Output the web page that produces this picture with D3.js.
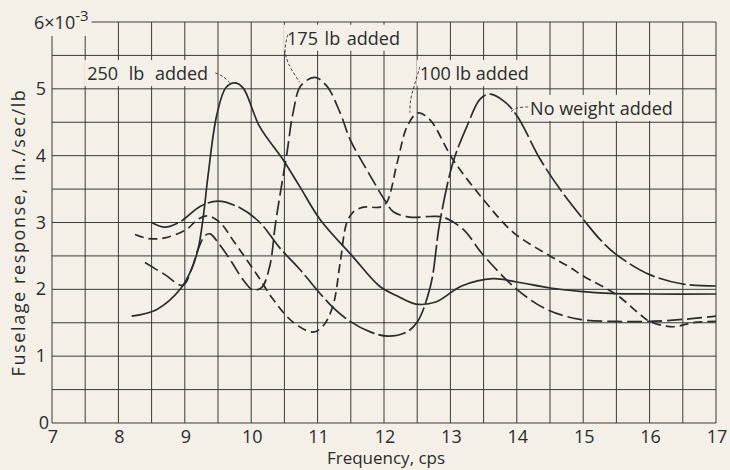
<!DOCTYPE html>
<html>
<head>
<meta charset="utf-8">
<script src="https://cdn.jsdelivr.net/npm/d3@7"></script>
<style>
  body { margin: 0; background: #f4f0e8; }
  text { font-family: "Open Sans", sans-serif; fill: #2b2b2b; }
</style>
</head>
<body>
<svg id="chart" width="730" height="470"></svg>
<script>
// tick labels
const xTicks = [7, 8, 9, 10, 11, 12, 13, 14, 15, 16, 17];
const yTicks = [0, 1, 2, 3, 4, 5];

// [frequency cps, response x1e-3 in./sec/lb]
const added250 = [[8.2,1.6],[8.58,1.7],[8.93,2.0],[9.1,2.3],[9.2,2.6],[9.28,3.1],[9.35,3.7],[9.48,4.6],
  [9.62,5.02],[9.76,5.09],[9.88,5.01],[10.13,4.43],[10.48,3.94],[10.73,3.54],[11.04,3.04],[11.53,2.49],
  [11.93,2.05],[12.2,1.9],[12.48,1.78],[12.78,1.81],[13.17,2.05],[13.64,2.16],[14.0,2.11],[14.5,2.02],
  [14.95,1.97],[15.4,1.94],[16.0,1.93],[17.0,1.93]];
const added175 = [[8.4,2.4],[8.7,2.22],[8.97,2.06],[9.1,2.3],[9.2,2.6],[9.3,2.8],[9.38,2.83],[9.5,2.7],
  [9.68,2.45],[9.88,2.14],[10.03,1.99],[10.16,2.03],[10.28,2.35],[10.36,2.94],[10.43,3.39],[10.54,4.05],
  [10.63,4.64],[10.75,5.05],[10.96,5.17],[11.14,5.04],[11.34,4.64],[11.49,4.24],[11.74,3.79],[12.04,3.29],
  [12.14,3.16],[12.39,3.08],[12.69,3.09],[12.89,3.08],[13.19,2.9],[13.49,2.52],[14.0,2.0],[14.45,1.7],
  [14.95,1.55],[15.5,1.52],[16.0,1.52],[16.5,1.55],[17.0,1.6]];
const added100 = [[8.25,2.82],[8.45,2.76],[8.7,2.77],[9.03,2.9],[9.2,3.05],[9.35,3.1],[9.53,3.0],[9.75,2.7],
  [10.1,2.2],[10.33,1.85],[10.63,1.51],[10.93,1.36],[11.08,1.45],[11.23,1.75],[11.34,2.4],[11.44,3.0],
  [11.54,3.16],[11.69,3.23],[11.94,3.23],[12.04,3.3],[12.2,3.9],[12.35,4.44],[12.51,4.64],[12.69,4.54],
  [13.04,3.94],[13.5,3.34],[13.95,2.85],[14.5,2.5],[14.8,2.33],[15.0,2.2],[15.5,1.92],[15.85,1.63],
  [16.0,1.52],[16.35,1.44],[16.65,1.5],[17.0,1.52]];
const noWeight = [[8.5,3.0],[8.7,2.93],[8.93,3.01],[9.23,3.24],[9.5,3.32],[9.83,3.22],[10.13,3.0],
  [10.43,2.62],[10.73,2.3],[11.2,1.76],[11.49,1.52],[11.8,1.36],[12.06,1.3],[12.34,1.36],[12.5,1.51],
  [12.7,2.05],[12.84,3.0],[13.04,3.9],[13.25,4.44],[13.45,4.85],[13.6,4.92],[13.8,4.82],[14.0,4.6],
  [14.35,3.95],[14.65,3.5],[15.0,3.05],[15.25,2.75],[15.5,2.52],[16.0,2.22],[16.5,2.08],[17.0,2.05]];

const series = [
  {data: added250, dash: null},
  {data: added175, dash: "15,5"},
  {data: added100, dash: "9,5"},
  {data: noWeight, dash: "28,4"}
];

// callouts: text start / baseline and leader points, in data units
const callouts = [
  {text: "250 lb added", x: 7.53, y: 5.13, ws: 6, lead: [[9.46,5.24],[9.58,5.18],[9.68,5.09]]},
  {text: "175 lb added", x: 10.54, y: 5.66, ws: 2, lead: [[10.55,5.81],[10.51,5.58],[10.56,5.38],[10.73,5.1]]},
  {text: "100 lb added", x: 12.54, y: 5.13, ws: 0, lead: [[12.54,5.33],[12.46,5.06],[12.4,4.83],[12.39,4.64]]},
  {text: "No weight added", x: 14.2, y: 4.61, ws: 0, lead: [[14.17,4.73],[14.0,4.71],[13.9,4.65]]}
];

const W = 730, H = 470;
const m = {left: 52, right: 14, top: 22, bottom: 47};
const bg = "#f4f0e8", ink = "#2b2b2b";

const svg = d3.select("#chart");
svg.append("rect").attr("width", W).attr("height", H).attr("fill", bg);

const x = d3.scaleLinear().domain([7, 17]).range([m.left, W - m.right]);
const y = d3.scaleLinear().domain([0, 6]).range([H - m.bottom, m.top]);

// grid every 0.5
const grid = svg.append("g").attr("stroke", "#3a3a3a").attr("stroke-width", 1);
d3.range(7, 17.01, 0.5).forEach(v => {
  grid.append("line").attr("x1", x(v)).attr("x2", x(v)).attr("y1", y(0)).attr("y2", y(6));
});
d3.range(0, 6.01, 0.5).forEach(v => {
  grid.append("line").attr("x1", x(7)).attr("x2", x(17)).attr("y1", y(v)).attr("y2", y(v));
});

// tick labels
const fs = 17;
svg.append("g").selectAll("text").data(xTicks).join("text")
  .attr("x", d => x(d) + 1).attr("y", y(0) + 20)
  .attr("text-anchor", "middle").style("font-size", "18px").text(d => d);

const knock = svg.append("g");

svg.append("g").selectAll("text").data(yTicks).join("text")
  .attr("x", d => d === 0 ? x(7) - 3 : x(7) - 6).attr("y", d => y(d) + 6)
  .attr("text-anchor", "end").style("font-size", "18px").text(d => d);

const topLabel = svg.append("text").attr("x", 34).attr("y", y(6) + 7).style("font-size", "18px");
topLabel.append("tspan").text("6×10");
topLabel.append("tspan").attr("dy", -8).style("font-size", "15px").text("-3");

// axis titles
svg.append("text").attr("x", x(12) + 2).attr("y", H - 6).attr("text-anchor", "middle")
  .style("font-size", fs + "px").text("Frequency, cps");
svg.append("text").attr("transform", `translate(25,${y(3) + 10}) rotate(-90)`)
  .attr("text-anchor", "middle").style("font-size", "18px").style("letter-spacing", "1.6px")
  .text("Fuselage response, in./sec/lb");

// curves
const line = d3.line().x(d => x(d[0])).y(d => y(d[1])).curve(d3.curveCatmullRom.alpha(0.5));
svg.append("g").selectAll("path").data(series).join("path")
  .attr("d", d => line(d.data)).attr("fill", "none").attr("stroke", ink)
  .attr("stroke-width", 1.7).attr("stroke-dasharray", d => d.dash);

// callout labels with knocked-out grid behind
const lead = d3.line().x(d => x(d[0])).y(d => y(d[1])).curve(d3.curveCatmullRom);
callouts.forEach(c => {
  const t = svg.append("text").attr("x", x(c.x)).attr("y", y(c.y))
    .style("font-size", "18px").style("word-spacing", c.ws + "px").text(c.text);
  const b = t.node().getBBox();
  knock.append("rect").attr("x", b.x - 3).attr("y", b.y - 1).attr("width", b.width + 6)
    .attr("height", b.height + 2).attr("fill", bg);
  svg.append("path").attr("d", lead(c.lead)).attr("fill", "none").attr("stroke", ink)
    .attr("stroke-width", 0.9).attr("stroke-dasharray", "3,2");
});
const tb = topLabel.node().getBBox();
knock.append("rect").attr("x", tb.x - 2).attr("y", tb.y - 2).attr("width", tb.width + 5)
  .attr("height", tb.height + 4).attr("fill", bg);
</script>
</body>
</html>
